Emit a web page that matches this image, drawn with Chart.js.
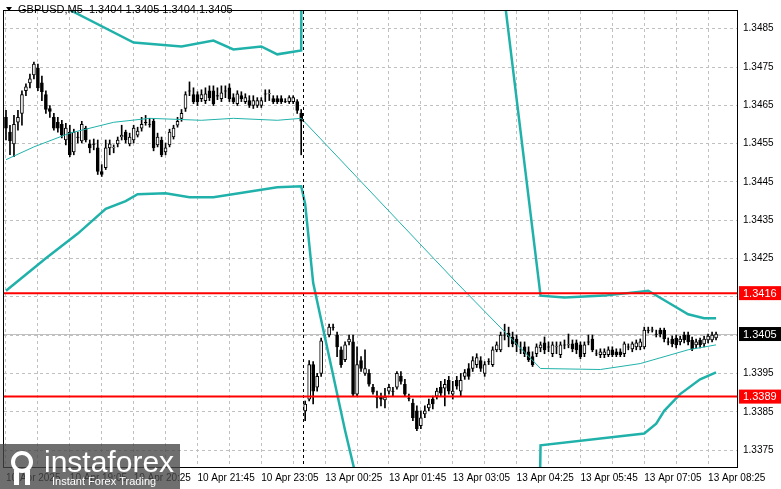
<!DOCTYPE html>
<html>
<head>
<meta charset="utf-8">
<script src="https://cdn.jsdelivr.net/npm/chart.js@4.4.1/dist/chart.umd.min.js"></script>
<style>
  html, body { margin: 0; padding: 0; background: #fff; }
  canvas { display: block; }
</style>
</head>
<body>
<canvas id="chart" width="781" height="489"></canvas>
<script>
// GBPUSD M5, 10 Apr 17:45 .. 13 Apr 08:35

var opens = [
  1.346187,1.345801,1.345493,1.346058,1.346289,1.346881,1.347086,1.347292,1.347472,1.347086,
  1.346778,1.346418,1.346187,1.346058,1.346007,1.345596,1.345801,1.345287,1.345673,1.345570,
  1.345904,1.345493,1.345493,1.345390,1.344773,1.344876,1.345390,1.345390,1.345493,1.345673,
  1.345801,1.345493,1.345596,1.345724,1.345904,1.346058,1.346007,1.346084,1.345467,1.345596,
  1.345287,1.345467,1.345673,1.345981,1.346161,1.346418,1.346881,1.346778,1.346778,1.346675,
  1.346624,1.346881,1.346881,1.346752,1.346675,1.346881,1.346958,1.346701,1.346546,1.346752,
  1.346598,1.346624,1.346495,1.346495,1.346495,1.346803,1.346803,1.346675,1.346675,1.346675,
  1.346598,1.346598,1.346598,1.346598,1.346289,
  1.338528,1.338836,1.339736,1.339145,1.339505,1.340456,1.340507,1.340713,1.340507,1.340121,
  1.339864,1.340327,1.340327,1.338965,1.339839,1.339505,1.339505,1.339145,1.338888,1.338888,
  1.338811,1.339042,1.339042,1.339145,1.339428,1.339222,1.338862,1.338734,1.338528,1.338143,
  1.338451,1.338605,1.338836,1.338914,1.339145,1.339119,1.339325,1.338965,1.339325,1.339042,
  1.339428,1.339633,1.339633,1.339736,1.339839,1.339505,1.339813,1.339736,1.340121,1.340121,
  1.340507,1.340558,1.340456,1.340404,1.340121,1.340199,1.340070,1.339942,1.340019,1.340173,
  1.340301,1.340199,1.340019,1.340199,1.339993,1.340250,1.340250,1.340276,1.340301,1.340250,
  1.340019,1.340327,1.340404,1.340019,1.339993,1.339993,1.339993,1.340121,1.340070,1.340070,
  1.340019,1.340199,1.340147,1.340199,1.340199,1.340199,1.340635,1.340635,1.340533,1.340635,
  1.340635,1.340327,1.340404,1.340430,1.340327,1.340507,1.340507,1.340378,1.340250,1.340378,
  1.340276,1.340378,1.340378,1.340430
];
var highs = [
  1.346367,1.345981,1.346238,1.346367,1.346881,1.347060,1.347317,1.347626,1.347574,1.347266,
  1.346881,1.346495,1.346289,1.346187,1.346110,1.346032,1.345981,1.345878,1.345801,1.346084,
  1.345955,1.345596,1.345621,1.345596,1.344953,1.345596,1.345596,1.345467,1.345673,1.345981,
  1.345853,1.345775,1.345981,1.345930,1.346187,1.346238,1.346161,1.346161,1.345775,1.345673,
  1.345518,1.345878,1.345981,1.346187,1.346392,1.346855,1.347112,1.346958,1.346855,1.346906,
  1.346958,1.347009,1.347009,1.346958,1.347009,1.347009,1.347060,1.346803,1.346881,1.346855,
  1.346803,1.346752,1.346752,1.346701,1.346701,1.346906,1.346906,1.346752,1.346752,1.346752,
  1.346675,1.346752,1.346752,1.346649,1.346392,
  1.338785,1.339839,1.339813,1.339505,1.340430,1.340507,1.340790,1.340790,1.340584,1.340199,
  1.340327,1.340507,1.340507,1.340199,1.339942,1.340121,1.339607,1.339222,1.339042,1.338991,
  1.339119,1.339222,1.339145,1.339556,1.339556,1.339350,1.338965,1.338836,1.338657,1.338528,
  1.338657,1.338836,1.338914,1.339119,1.339299,1.339350,1.339428,1.339299,1.339428,1.339505,
  1.339607,1.339762,1.339942,1.340019,1.339942,1.339813,1.339890,1.340199,1.340327,1.340584,
  1.340790,1.340713,1.340584,1.340507,1.340327,1.340327,1.340199,1.340070,1.340276,1.340327,
  1.340456,1.340327,1.340327,1.340327,1.340327,1.340378,1.340533,1.340378,1.340378,1.340327,
  1.340327,1.340507,1.340507,1.340121,1.340147,1.340147,1.340199,1.340199,1.340147,1.340147,
  1.340327,1.340276,1.340327,1.340378,1.340404,1.340713,1.340713,1.340713,1.340635,1.340687,
  1.340687,1.340430,1.340481,1.340507,1.340481,1.340584,1.340584,1.340456,1.340404,1.340430,
  1.340481,1.340533,1.340584,1.340584
];
var lows = [
  1.345596,1.345210,1.345159,1.345853,1.345981,1.346752,1.346958,1.347189,1.346881,1.346624,
  1.346289,1.346187,1.345853,1.345801,1.345647,1.345467,1.345159,1.345210,1.345518,1.345518,
  1.345544,1.345261,1.345339,1.344696,1.344645,1.344825,1.345210,1.345261,1.345416,1.345596,
  1.345518,1.345441,1.345518,1.345673,1.345827,1.345981,1.345930,1.345313,1.345416,1.345159,
  1.345210,1.345416,1.345621,1.345930,1.346084,1.346341,1.346752,1.346546,1.346495,1.346598,
  1.346546,1.346624,1.346495,1.346649,1.346598,1.346701,1.346598,1.346546,1.346495,1.346598,
  1.346546,1.346444,1.346418,1.346444,1.346444,1.346598,1.346624,1.346546,1.346546,1.346546,
  1.346572,1.346546,1.346546,1.346289,1.345210,
  1.338271,1.338785,1.338708,1.339042,1.339428,1.340404,1.340456,1.340635,1.339942,1.339659,
  1.339813,1.340250,1.338914,1.338914,1.339556,1.339453,1.339171,1.338965,1.338605,1.338657,
  1.338605,1.338965,1.338914,1.339093,1.339222,1.338914,1.338785,1.338271,1.338014,1.338066,
  1.338348,1.338528,1.338579,1.338836,1.338914,1.338657,1.338965,1.338836,1.339093,1.338914,
  1.339350,1.339350,1.339556,1.339659,1.339556,1.339428,1.339736,1.339685,1.340070,1.340070,
  1.340378,1.340199,1.340199,1.340070,1.340019,1.339942,1.339813,1.339685,1.339942,1.340070,
  1.340019,1.340070,1.339942,1.340019,1.339916,1.340147,1.340173,1.340070,1.340019,1.339890,
  1.339942,1.340250,1.340070,1.339967,1.339916,1.339916,1.339942,1.339942,1.339942,1.339942,
  1.339942,1.340121,1.340070,1.340121,1.340121,1.340147,1.340558,1.340584,1.340456,1.340456,
  1.340327,1.340250,1.340199,1.340173,1.340250,1.340301,1.340250,1.340096,1.340173,1.340173,
  1.340199,1.340301,1.340327,1.340378
];
var closes = [
  1.345904,1.345570,1.346007,1.346187,1.346778,1.346983,1.347189,1.347574,1.346958,1.346855,
  1.346392,1.346341,1.345904,1.345904,1.345724,1.345904,1.345210,1.345801,1.345660,1.346007,
  1.345596,1.345390,1.345480,1.344773,1.344696,1.345390,1.345493,1.345400,1.345596,1.345724,
  1.345596,1.345673,1.345904,1.345827,1.346007,1.346050,1.346000,1.345390,1.345673,1.345210,
  1.345390,1.345801,1.345904,1.346084,1.346289,1.346778,1.346870,1.346598,1.346598,1.346778,
  1.346803,1.346701,1.346546,1.346740,1.346829,1.346870,1.346675,1.346598,1.346803,1.346675,
  1.346701,1.346495,1.346624,1.346624,1.346624,1.346790,1.346810,1.346598,1.346598,1.346598,
  1.346590,1.346701,1.346701,1.346367,1.346084,
  1.338708,1.339736,1.339042,1.339428,1.340353,1.340450,1.340713,1.340705,1.340199,1.339736,
  1.340250,1.340404,1.338965,1.339736,1.339633,1.339633,1.339222,1.339016,1.338880,1.338836,
  1.338888,1.339145,1.339035,1.339505,1.339299,1.338965,1.338855,1.338348,1.338066,1.338348,
  1.338528,1.338708,1.338708,1.339042,1.338991,1.339222,1.339042,1.339042,1.339171,1.339325,
  1.339530,1.339428,1.339839,1.339916,1.339633,1.339736,1.339805,1.340121,1.340250,1.340507,
  1.340500,1.340456,1.340276,1.340250,1.340115,1.340019,1.339864,1.339736,1.340199,1.340250,
  1.340121,1.340190,1.340250,1.340205,1.340250,1.340245,1.340255,1.340147,1.340121,1.339942,
  1.340250,1.340320,1.340121,1.340012,1.340070,1.340070,1.340121,1.339993,1.339993,1.339993,
  1.340276,1.340190,1.340276,1.340301,1.340327,1.340635,1.340630,1.340640,1.340525,1.340533,
  1.340404,1.340320,1.340276,1.340250,1.340404,1.340378,1.340327,1.340147,1.340327,1.340250,
  1.340404,1.340481,1.340507,1.340533
];

// envelope lines: [bar index, price] vertices
var upperBand = [[0,1.349836],[12,1.349065],[16,1.348988],[32,1.348140],[44,1.348037],[52,1.348191],
  [57,1.347960],[64,1.348037],[68,1.347831],[74,1.347934],[75,1.374765],[124,1.350093],[134,1.341535],
  [140,1.341484],[150,1.341535],[159,1.341638],[161,1.341663],[166,1.341355],[171,1.341047],[175,1.340944],[178,1.340944]];
var middleBand = [[0,1.345082],[7,1.345416],[16,1.345775],[27,1.346058],[36,1.346161],[49,1.346110],
  [57,1.346161],[68,1.346110],[74,1.346161],[113,1.341869],[134,1.339633],[149,1.339607],[159,1.339762],
  [171,1.340121],[178,1.340250]];
var lowerBand = [[0,1.341664],[10,1.342512],[18,1.343154],[25,1.343797],[30,1.344002],[33,1.344182],
  [40,1.344208],[46,1.344105],[52,1.344105],[60,1.344233],[68,1.344362],[74,1.344388],[75,1.343925],
  [77,1.341869],[85,1.338014],[95,1.333645],[133,1.331075],[134,1.337628],[160,1.337937],[163,1.338194],
  [165,1.338528],[169,1.338965],[174,1.339350],[178,1.339530]];

var levels = [1.3416, 1.3389];
var levelLabels = ["1.3416", "1.3389"];
var currentPrice = 1.340533;
var currentLabel = "1.3405";

var yTicks = [1.3485,1.3475,1.3465,1.3455,1.3445,1.3435,1.3425,1.3415,1.3405,1.3395,1.3385,1.3375];
var timeLabels = ["10 Apr 2025","10 Apr 19:05","10 Apr 20:25","10 Apr 21:45","10 Apr 23:05","13 Apr 00:25",
  "13 Apr 01:45","13 Apr 03:05","13 Apr 04:25","13 Apr 05:45","13 Apr 07:05","13 Apr 08:25"];
var slots = 184;
var sessionBreak = 75; // first bar of 13 Apr

var labels = [];
for (var i = 0; i < slots; i++) labels.push(i);

var wicks = opens.map(function (o, i) { return [lows[i], highs[i]]; });
var bodies = opens.map(function (o, i) { return [o, closes[i]]; });
var bodyFill = opens.map(function (o, i) { return closes[i] >= o ? '#ffffff' : '#000000'; });

function toXY(arr) { return arr.map(function (p) { return { x: p[0], y: p[1] }; }); }

var TEAL = '#20b2aa';
var FONT = 'Liberation Sans, Arial, sans-serif';

var overlay = {
  id: 'overlay',
  beforeDatasetsDraw: function (chart) {
    var c = chart.ctx, a = chart.chartArea, y = chart.scales.y;
    var py = Math.round(y.getPixelForValue(currentPrice)) + 0.5;
    c.save();
    c.strokeStyle = '#c0c0c0'; c.lineWidth = 1;
    c.beginPath(); c.moveTo(a.left, py); c.lineTo(a.right, py); c.stroke();
    c.restore();
  },
  afterDatasetsDraw: function (chart) {
    var c = chart.ctx, a = chart.chartArea, x = chart.scales.x, y = chart.scales.y;
    c.save();
    // session separator
    var sx = Math.round((x.getPixelForValue(sessionBreak - 1) + x.getPixelForValue(sessionBreak)) / 2) + 0.5;
    c.strokeStyle = '#000'; c.lineWidth = 1; c.setLineDash([3, 3]);
    c.beginPath(); c.moveTo(sx, a.top); c.lineTo(sx, a.bottom); c.stroke();
    c.setLineDash([]);
    // support / resistance
    c.strokeStyle = '#ff0000'; c.lineWidth = 2;
    levels.forEach(function (v) {
      var py = y.getPixelForValue(v);
      c.beginPath(); c.moveTo(a.left, py); c.lineTo(a.right, py); c.stroke();
    });
    // frame
    c.strokeStyle = '#000'; c.lineWidth = 1;
    c.strokeRect(a.left - 0.5, a.top - 0.5, a.right - a.left, a.bottom - a.top + 1);
    c.restore();
  },
  afterDraw: function (chart) {
    var c = chart.ctx, a = chart.chartArea, y = chart.scales.y;
    c.save();
    c.font = '11px ' + FONT; c.textBaseline = 'middle';
    function tag(v, text, bg) {
      var py = y.getPixelForValue(v);
      c.fillStyle = bg; c.fillRect(a.right + 1, py - 7, 42, 14);
      c.fillStyle = '#fff'; c.fillText(text, a.right + 5, py + 0.5);
    }
    levels.forEach(function (v, i) { tag(v, levelLabels[i], '#ff0000'); });
    tag(currentPrice, currentLabel, '#000000');
    // header
    c.fillStyle = '#000';
    c.beginPath(); c.moveTo(6, 7); c.lineTo(12, 7); c.lineTo(9, 11); c.closePath(); c.fill();
    c.fillText('GBPUSD,M5  1.3404 1.3405 1.3404 1.3405', 18, 10);
    // watermark
    c.fillStyle = 'rgba(70,70,70,0.78)'; c.fillRect(0, 444, 180, 45);
    c.strokeStyle = '#fff'; c.lineWidth = 4;
    c.beginPath(); c.arc(22, 462, 9, 0, Math.PI * 2); c.stroke();
    c.fillStyle = '#fff'; c.fillRect(14, 470, 5, 15); c.fillRect(25, 470, 5, 15);
    c.font = '30px ' + FONT; c.textBaseline = 'alphabetic';
    c.fillText('instaforex', 44, 472);
    c.font = '11px ' + FONT;
    c.fillText('Instant Forex Trading', 52, 485);
    c.restore();
  }
};

new Chart(document.getElementById('chart'), {
  type: 'bar',
  data: {
    labels: labels,
    datasets: [
      { type: 'line', data: toXY(upperBand), borderColor: TEAL, borderWidth: 2.5, pointRadius: 0, order: 0 },
      { type: 'line', data: toXY(lowerBand), borderColor: TEAL, borderWidth: 2.5, pointRadius: 0, order: 0 },
      { type: 'line', data: toXY(middleBand), borderColor: TEAL, borderWidth: 1, pointRadius: 0, order: 0 },
      { data: bodies, backgroundColor: bodyFill, borderColor: '#000', borderWidth: 1, borderSkipped: false,
        barThickness: 3, grouped: false, order: 1 },
      { data: wicks, backgroundColor: '#000', borderWidth: 0, barThickness: 1, grouped: false, order: 2 }
    ]
  },
  options: {
    responsive: false,
    animation: false,
    layout: { padding: { top: 4, left: 4, right: 0, bottom: 0 } },
    plugins: { legend: { display: false }, tooltip: { enabled: false } },
    scales: {
      x: {
        type: 'category',
        offset: true,
        afterFit: function (s) { s.height = 22; },
        grid: {
          offset: false, drawTicks: false,
          color: function (ctx) { return ctx.index % 8 === 0 ? '#c0c0c0' : 'rgba(0,0,0,0)'; }
        },
        border: { display: false, dash: [3, 3] },
        ticks: {
          autoSkip: false, maxRotation: 0, align: 'start', padding: 5,
          color: '#000', font: { family: FONT, size: 10 },
          callback: function (v, i) { return i % 16 === 0 ? (timeLabels[i / 16] || '') : ''; }
        }
      },
      y: {
        position: 'right',
        min: 1.337063, max: 1.348962,
        afterFit: function (s) { s.width = 43; },
        afterBuildTicks: function (s) { s.ticks = yTicks.map(function (v) { return { value: v }; }); },
        grid: { color: '#c0c0c0', drawTicks: false },
        border: { display: false, dash: [3, 3] },
        ticks: {
          padding: 5, color: '#000', font: { family: FONT, size: 10 },
          callback: function (v) { return v.toFixed(4); }
        }
      }
    }
  },
  plugins: [overlay]
});
</script>
</body>
</html>
